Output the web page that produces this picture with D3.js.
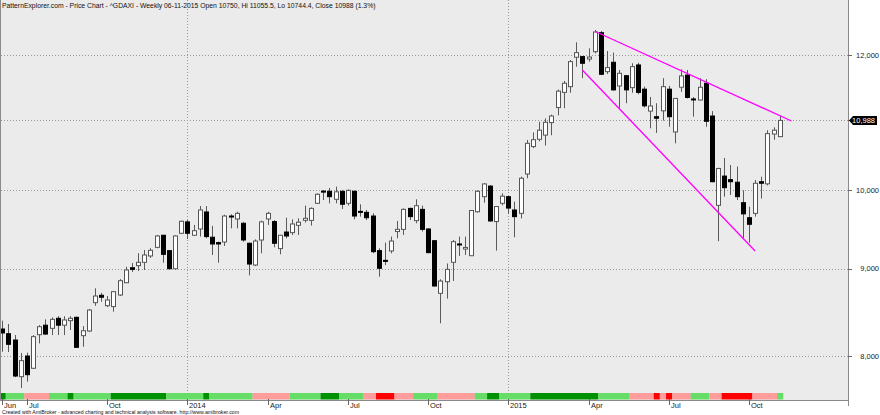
<!DOCTYPE html>
<html>
<head>
<meta charset="utf-8">
<script src="https://cdn.jsdelivr.net/npm/d3@7"></script>
<style>
html,body{margin:0;padding:0;background:#fff;}
svg{display:block;font-family:"Liberation Sans",Arial,sans-serif;}
</style>
</head>
<body>
<svg id="chart" width="880" height="415"></svg>
<script>
// ---- DATA (weekly ^GDAXI) ----
const opens = [8296,8244,8174,7780,8000,7869,8233,8339,8304,8417,8339,8390,8428,8222,8274,8596,8682,8561,8551,8685,8830,
9010,9035,9076,9154,9261,9413,9220,8998,9438,9584,9413,9493,9713,9388,9320,9328,9660,9622,9566,9312,9043,9353,
9622,9588,9245,9454,9446,9540,9604,9604,9827,9990,9987,9880,9987,9827,9987,9721,9708,9660,9220,9100,9216,
9460,9488,9760,9600,9747,9493,9344,8705,8842,9076,9303,9240,9157,9716,9915,10058,9588,9827,9915,9739,9695,
10223,10607,10712,10773,10955,11180,11411,11499,11964,11974,11935,12054,12366,11734,11883,11510,11670,11484,11840,11460,
11127,11043,11131,11460,10818,11490,11680,11310,11294,11552,11053,9800,10194,10145,10110,9835,9638,9695,10117,10088,10788,10750];
const highs = [8390,8352,8230,8032,8036,8229,8339,8405,8428,8440,8440,8440,8435,8329,8523,8764,8710,8673,8732,8873,9022,
9067,9187,9228,9250,9417,9417,9228,9413,9600,9608,9545,9791,9791,9533,9332,9677,9683,9716,9584,9320,9361,9600,
9716,9608,9417,9638,9617,9630,9797,9773,9960,10000,10032,10050,10000,10012,10000,9814,9739,9695,9250,9320,9396,
9596,9760,9768,9880,9797,9501,9353,8871,9062,9353,9396,9396,9739,10000,10096,10067,9787,9960,9922,9848,10186,
10702,10812,10968,11017,11073,11454,11587,11920,12207,11985,12109,12411,12395,12064,12038,11760,11680,11867,11876,11499,
11341,11245,11631,11510,11322,11771,11760,11340,11631,11615,11127,10310,10446,10347,10325,10000,9782,10141,10186,10844,10886,11055.5];
const lows = [8046,8043,7775,7662,7728,7861,8137,8230,8229,8229,8229,8285,8090,8100,8262,8560,8607,8545,8492,8673,8826,
8959,8970,8983,9130,9250,9071,8990,8990,9430,9366,9404,9396,9375,9166,9071,9278,9501,9501,9332,8918,9030,9187,
9545,9261,9174,9375,9417,9417,9575,9536,9820,9871,9827,9827,9752,9797,9617,9652,9608,9187,8902,9043,9187,
9375,9417,9608,9566,9460,9187,8783,8360,8643,8851,9154,9166,9154,9703,9835,9588,9220,9800,9688,9388,9630,
10164,10585,10683,10622,10770,11063,11169,11405,11813,11631,11893,12027,11680,11696,11438,11169,11245,11405,11381,11180,
10871,10804,10985,10894,10654,11420,11318,11043,11290,10894,10110,9338,9915,9938,9871,9375,9320,9652,9889,10067,10706,10744.4];
const closes = [8252,8127,7787,7950,7801,8211,8322,8240,8405,8339,8398,8417,8094,8277,8511,8673,8659,8627,8724,8854,8983,
8990,9076,9166,9224,9404,9174,8998,9404,9592,9438,9471,9739,9396,9303,9303,9660,9656,9695,9353,9055,9340,9584,
9695,9312,9413,9404,9557,9580,9630,9760,9947,9980,9915,9980,9814,10000,9660,9708,9638,9207,9003,9092,9340,
9488,9747,9652,9795,9488,9195,8791,8850,8990,9332,9291,9260,9732,9987,10087,9596,9784,9922,9764,9652,10164,
10654,10706,10844,10960,11053,11430,11552,11893,12038,11867,11967,12378,11692,11798,11449,11708,11449,11813,11411,11206,
11203,11020,11499,11043,11318,11666,11333,11300,11490,10975,10117,10298,10036,10117,9915,9688,9553,10096,10096,10794,10844,10988];

// indicator strip: [first bar, last bar, state]
const stripSegments = [[0,0,"G"],[1,3,"g"],[4,7,"p"],[8,10,"g"],[11,11,"G"],[12,17,"g"],[18,26,"G"],[27,32,"g"],
[33,33,"G"],[34,40,"g"],[41,46,"p"],[47,51,"g"],[52,54,"G"],[55,58,"g"],[59,60,"p"],[61,63,"r"],[64,66,"p"],
[67,70,"g"],[71,76,"p"],[77,78,"g"],[79,80,"G"],[81,85,"g"],[86,96,"G"],[97,101,"g"],[102,105,"p"],[106,106,"r"],
[107,107,"p"],[108,108,"r"],[109,111,"p"],[112,114,"g"],[115,116,"p"],[117,121,"r"],[122,125,"p"],[126,126,"g"]];
const stripStates = ["G","g","p","r"];

// trend lines: [bar index, price]
const upperTrend = [[96.1, 12386],[127.9, 10979]];
const lowerTrend = [[94.0, 11760],[122.0, 9216]];

const monthTickBars = [0,4,17,30,43,56,69,82,95,108,121];
const monthTickLabels = ["Jun","Jul","Oct","2014","Apr","Jul","Oct","2015","Apr","Jul","Oct"];
const yearGridBars = [30,82];
const priceGrid = [8000,9000,10000,11000,12000];
const priceLabels = [8000,9000,10000,12000];
const lastClose = 10988;

const titleText = "PatternExplorer.com - Price Chart - ^GDAXI - Weekly 06-11-2015 Open 10750, Hi 11055.5, Lo 10744.4, Close 10988 (1.3%)";
const footerText = "Created with AmiBroker - advanced charting and technical analysis software. http://www.amibroker.com";

// ---- DRAW ----
const svg = d3.select("#chart");
const plotRight = 848, plotBottom = 400;
const x = d3.scaleLinear().domain([0,126]).range([2.3,779.8]);
const y = d3.scaleLog().domain([8000,12000]).range([356,55]);
const stripColor = d3.scaleOrdinal().domain(stripStates).range(["#009100","#66dd66","#ff9c9c","#ff0000"]);
const fmt = d3.format(",");

svg.append("rect").attr("x",0).attr("y",0).attr("width",plotRight).attr("height",plotBottom).attr("fill","#ebebeb");

// grid
svg.append("g").selectAll("line").data(priceGrid).join("line")
  .attr("x1",1).attr("x2",plotRight).attr("y1",d=>Math.round(y(d))+0.5).attr("y2",d=>Math.round(y(d))+0.5)
  .attr("stroke","#9a9a9a").attr("stroke-dasharray","1,2");
svg.append("g").selectAll("line").data(yearGridBars).join("line")
  .attr("x1",d=>Math.round(x(d))+0.5).attr("x2",d=>Math.round(x(d))+0.5).attr("y1",0).attr("y2",plotBottom)
  .attr("stroke","#9a9a9a").attr("stroke-dasharray","1,2");

// candles
const idx = d3.range(closes.length);
const cg = svg.append("g");
cg.selectAll("line.wick").data(idx).join("line").attr("class","wick")
  .attr("x1",i=>Math.round(x(i))+0.5).attr("x2",i=>Math.round(x(i))+0.5)
  .attr("y1",i=>y(highs[i])).attr("y2",i=>y(lows[i]))
  .attr("stroke","#5a5a5a").attr("stroke-width",1);
cg.selectAll("rect.body").data(idx).join("rect").attr("class","body")
  .attr("x",i=>Math.round(x(i))-2+0.5)
  .attr("width",4)
  .attr("y",i=>y(Math.max(opens[i],closes[i])))
  .attr("height",i=>Math.max(1,Math.abs(y(opens[i])-y(closes[i]))))
  .attr("fill",i=>closes[i]>=opens[i]?"#ffffff":"#000000")
  .attr("stroke",i=>closes[i]>=opens[i]?"#555555":"#000000").attr("stroke-width",1);

// trend lines
const tl = d3.line().x(d=>x(d[0])).y(d=>y(d[1]));
[upperTrend,lowerTrend].forEach(t=>{
  svg.append("path").attr("d",tl(t)).attr("fill","none").attr("stroke","#ff00ff").attr("stroke-width",1.3);
});

// indicator strip
const half = (x(1)-x(0))/2;
svg.append("g").selectAll("rect").data(stripSegments).join("rect")
  .attr("x",d=>x(d[0])-half+0.4).attr("width",d=>x(d[1])-x(d[0])+2*half)
  .attr("y",393).attr("height",6.5).attr("fill",d=>stripColor(d[2]));

// frame / axes
svg.append("line").attr("x1",0.5).attr("x2",0.5).attr("y1",0).attr("y2",plotBottom).attr("stroke","#8a8a8a");
svg.append("line").attr("x1",0).attr("x2",plotRight).attr("y1",plotBottom+0.5).attr("y2",plotBottom+0.5).attr("stroke","#8a8a8a");
svg.append("line").attr("x1",plotRight+0.5).attr("x2",plotRight+0.5).attr("y1",0).attr("y2",406).attr("stroke","#8a8a8a");

// right axis ticks + labels
svg.append("g").selectAll("line").data(priceGrid).join("line")
  .attr("x1",plotRight).attr("x2",plotRight+4).attr("y1",d=>Math.round(y(d))+0.5).attr("y2",d=>Math.round(y(d))+0.5)
  .attr("stroke","#666");
svg.append("g").selectAll("text").data(priceLabels).join("text")
  .attr("x",879).attr("y",d=>y(d)).attr("dy","0.35em").attr("text-anchor","end")
  .attr("font-size",7.5).attr("fill","#222").text(d=>fmt(d));

// last price tag
const ly = y(lastClose);
svg.append("path").attr("d",`M849,${ly} L853,${ly-4.5} L877,${ly-4.5} L877,${ly+4.5} L853,${ly+4.5} Z`).attr("fill","#000");
svg.append("text").attr("x",875).attr("y",ly).attr("dy","0.35em").attr("text-anchor","end")
  .attr("font-size",7.5).attr("fill","#fff").text(fmt(lastClose));

// bottom axis ticks
const mt = svg.append("g");
mt.selectAll("line").data(monthTickBars).join("line")
  .attr("x1",d=>Math.round(x(d))+0.5).attr("x2",d=>Math.round(x(d))+0.5).attr("y1",399).attr("y2",405)
  .attr("stroke","#666");
mt.selectAll("text").data(monthTickBars).join("text")
  .attr("x",d=>Math.round(x(d))+2).attr("y",407.5)
  .attr("font-size",7.5).attr("fill","#222").text((d,i)=>monthTickLabels[i]);

// title / footer
svg.append("text").attr("x",2).attr("y",7.5).attr("font-size",6.8).attr("fill","#111").text(titleText);
svg.append("text").attr("x",2).attr("y",413.5).attr("font-size",5.2).attr("fill","#111").text(footerText);
</script>
</body>
</html>
